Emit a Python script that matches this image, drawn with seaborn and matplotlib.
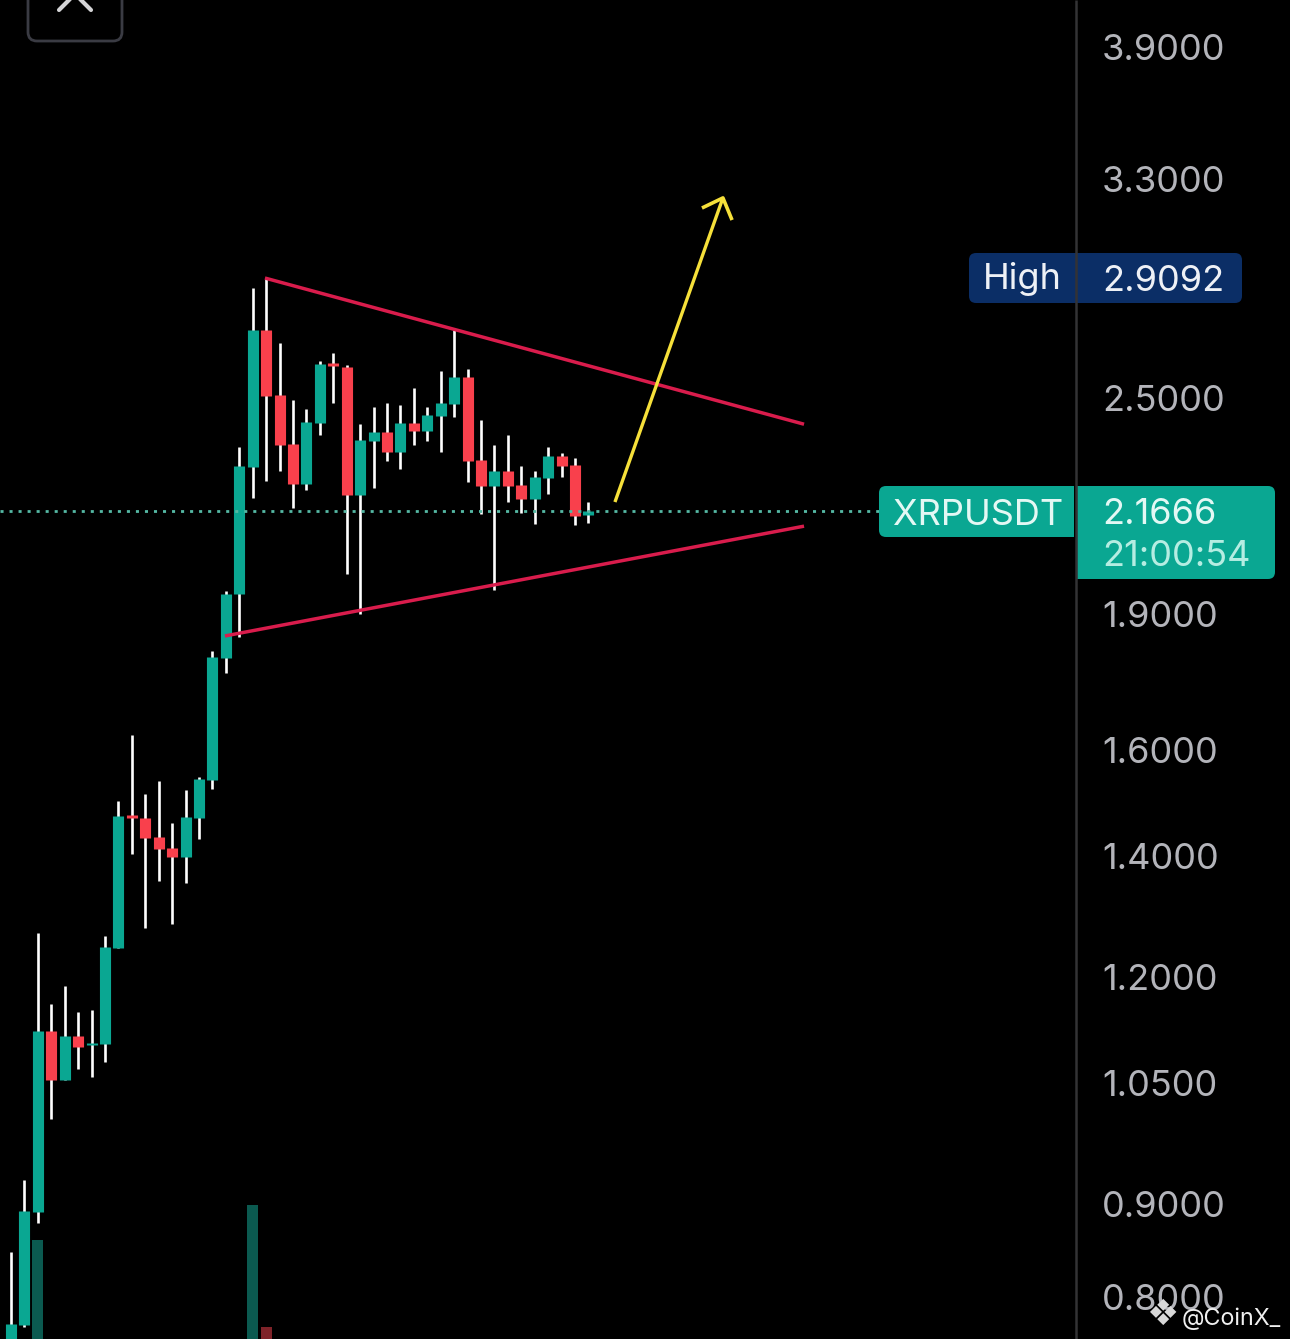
import matplotlib
matplotlib.use("Agg")
import matplotlib.pyplot as plt
import pandas as pd
import seaborn as sns
from matplotlib.lines import Line2D
from matplotlib.patches import FancyBboxPatch, Rectangle
from matplotlib.ticker import NullLocator
from matplotlib.transforms import Affine2D

# candles
opens = [0.7385, 0.7721, 0.8910, 1.1206, 1.0531, 1.1135, 1.1009, 1.1023, 1.2449, 1.4735, 1.4679,
         1.4329, 1.4131, 1.3971, 1.4679, 1.5403, 1.7979, 1.9498, 2.2903, 2.7246, 2.5092, 2.3580,
         2.2415, 2.4216, 2.6130, 2.5998, 2.2104, 2.3672, 2.3942, 2.3343, 2.4216, 2.3972, 2.4433,
         2.4807, 2.5670, 2.3107, 2.2358, 2.2787, 2.2387, 2.1993, 2.2586, 2.3225, 2.2961, 2.1553]
closes = [0.7730, 0.8921, 1.1206, 1.0531, 1.1135, 1.0981, 1.1037, 1.2465, 1.4716, 1.4679, 1.4311,
          1.4113, 1.3971, 1.4697, 1.5423, 1.8001, 1.9498, 2.2932, 2.7246, 2.5060, 2.3550, 2.2415,
          2.4247, 2.6097, 2.6031, 2.2104, 2.3702, 2.3942, 2.3343, 2.4216, 2.3972, 2.4464, 2.4838,
          2.5670, 2.3078, 2.2358, 2.2787, 2.2358, 2.1993, 2.2615, 2.3225, 2.2932, 2.1524, 2.1666]
highs = [0.8469, 0.9278, 1.2688, 1.1596, 1.1864, 1.1479, 1.1508, 1.2640, 1.4999, 1.6307, 1.5132,
         1.5383, 1.4586, 1.5209, 1.5462, 1.8139, 1.9573, 2.3491, 2.8735, 2.9092, 2.6799, 2.4933,
         2.4650, 2.6196, 2.6463, 2.6064, 2.4185, 2.4713, 2.4838, 2.4775, 2.5315, 2.4713, 2.5866,
         2.7246, 2.5932, 2.4309, 2.3550, 2.3851, 2.2932, 2.2787, 2.3491, 2.3313, 2.3165, 2.1909]
lows = [0.7292, 0.7701, 0.8786, 1.0024, 1.0531, 1.0679, 1.0571, 1.0774, 1.2449, 1.4024, 1.2769,
        1.3552, 1.2833, 1.3518, 1.4293, 1.5228, 1.7640, 1.8464, 2.2021, 2.2500, 2.2787, 2.1743,
        2.2245, 2.3851, 2.4838, 1.9999, 1.9009, 2.2301, 2.3078, 2.2845, 2.3550, 2.3672, 2.3343,
        2.4401, 2.2472, 2.1577, 1.9597, 2.1909, 2.1604, 2.1306, 2.2133, 2.2615, 2.1279, 2.1333]

volume_idx = [2, 18, 19]
volumes = [99, 134, 12]
volume_side = ["up", "up", "down"]

price_ticks = [3.9, 3.3, 2.5, 2.2, 1.9, 1.6, 1.4, 1.2, 1.05, 0.9, 0.8]
last_price = 2.1666
high_price = 2.9092

# trendlines and the arrow, (candle index, price)
upper_x, upper_y = [18.91, 59.05], [2.910, 2.418]
lower_x, lower_y = [15.93, 59.05], [1.849, 2.125]
shaft_x, shaft_y = [44.97, 53.01], [2.191, 3.221]
head_x, head_y = [51.45, 53.01, 53.69], [3.180, 3.221, 3.132]

W, H = 1290, 1339
AXIS_PX = 1076
GREEN = "#0aa792"
RED = "#f9404c"
CRIMSON = "#d91c4c"
YELLOW = "#f6e03a"
GREY = "#b3b4ba"

sns.set_theme(style="dark", rc={"figure.facecolor": "black", "axes.facecolor": "black",
                                "lines.solid_capstyle": "butt"})
plt.rcParams["font.family"] = ["Inter", "DejaVu Sans"]

fig = plt.figure(figsize=(W / 100, H / 100), dpi=100)
rect = [0, 0, AXIS_PX / W, 1]
vol_ax = fig.add_axes(rect)
ax = fig.add_axes(rect)
ax.patch.set_visible(False)

# image pixels, y going down
img = Affine2D().scale(1, -1).translate(0, H)

df = pd.DataFrame({"i": range(len(opens)), "open": opens, "close": closes, "high": highs, "low": lows})
df["side"] = ["up" if c >= o else "down" for o, c in zip(opens, closes)]
palette = {"up": GREEN, "down": RED}

wicks = df.melt(id_vars=["i"], value_vars=["high", "low"], value_name="price")
bodies = df.melt(id_vars=["i", "side"], value_vars=["open", "close"], value_name="price")

sns.barplot(x=volume_idx, y=volumes, hue=volume_side, palette={"up": "#0b5a50", "down": "#7f2329"},
            native_scale=True, dodge=False, saturation=1, legend=False, linewidth=0, ax=vol_ax)

ax.set_yscale("log")
sns.lineplot(data=wicks, x="i", y="price", units="i", estimator=None, color="white",
             linewidth=1.9, legend=False, ax=ax)
sns.lineplot(data=bodies, x="i", y="price", units="i", estimator=None, hue="side", palette=palette,
             linewidth=8.0, legend=False, ax=ax)

ax.axhline(last_price, xmax=879 / AXIS_PX, color="#55b9a4", linewidth=2.0, linestyle=(0, (1.1, 2.15)))
for xs, ys, color, lw in [(upper_x, upper_y, CRIMSON, 2.5), (lower_x, lower_y, CRIMSON, 2.5),
                          (shaft_x, shaft_y, YELLOW, 2.4), (head_x, head_y, YELLOW, 2.6)]:
    sns.lineplot(x=xs, y=ys, sort=False, estimator=None, color=color, linewidth=lw, ax=ax)

# 13.43 px per candle, first candle at x=11
for a in (ax, vol_ax):
    a.set_xlim(-11 / 13.43, (AXIS_PX - 11) / 13.43)
    a.set_xlabel("")
    a.set_ylabel("")
ax.set_ylim(0.7587, 4.139)
vol_ax.set_ylim(0, H)
vol_ax.axis("off")

ax.yaxis.tick_right()
ax.set_yticks(price_ticks, [f"{t:.4f}" for t in price_ticks])
ax.yaxis.set_minor_locator(NullLocator())
ax.tick_params(axis="y", length=0, pad=18.7, labelsize=26, labelcolor=GREY)
ax.tick_params(axis="x", bottom=False, labelbottom=False)
ax.grid(False)
for s in ax.spines.values():
    s.set_visible(False)


def label_box(x0, y0, x1, y1, color, square_side=None):
    fig.add_artist(FancyBboxPatch((x0, y0), x1 - x0, y1 - y0, boxstyle="round,pad=0,rounding_size=7",
                                  transform=img, fc=color, ec="none"))
    if square_side == "right":
        fig.add_artist(Rectangle((x1 - 10, y0), 10, y1 - y0, transform=img, fc=color, ec="none"))
    if square_side == "left":
        fig.add_artist(Rectangle((x0, y0), 10, y1 - y0, transform=img, fc=color, ec="none"))


label_box(969, 253, 1076, 303, "#0b2e66", "right")
label_box(1076, 253, 1242, 303, "#0b2e66", "left")
label_box(879, 486, 1074, 537, GREEN, "right")
label_box(1077, 486, 1275, 579, GREEN, "left")

fig.add_artist(Line2D([1076, 1076], [0, H], transform=img, color="#333335", linewidth=1.8))

# close button cut off by the top edge
fig.add_artist(FancyBboxPatch((28, -30), 94, 71, boxstyle="round,pad=0,rounding_size=9", transform=img,
                              fc="none", ec="#3a3b43", linewidth=2))
fig.add_artist(Line2D([59, 75, 91], [10, -6, 10], transform=img, color="#d4d4d6", linewidth=3,
                      solid_capstyle="round"))

for x, y, s, color in [(983, 276, "High", "#eef1f6"), (1102, 278, high_price, "#eef1f6"),
                       (893, 512, "XRPUSDT", "#e3f8f4"), (1102, 511, last_price, "#e3f8f4"),
                       (1102, 553, "21:00:54", "#b5ede2")]:
    text = s if isinstance(s, str) else f"{s:.4f}"
    fig.text(x, y, text, transform=img, color=color, fontsize=26, ha="left", va="center_baseline")

fig.text(1182, 1316, "@CoinX_", transform=img, color="#f0f0f0", fontsize=16.8, ha="left", va="center_baseline")
fig.text(1163, 1315, "\u2756", transform=img, color="#d8d8d8", fontsize=26, ha="center", va="center",
         family="DejaVu Sans")

fig.savefig("out.png", dpi=100, facecolor="black")
